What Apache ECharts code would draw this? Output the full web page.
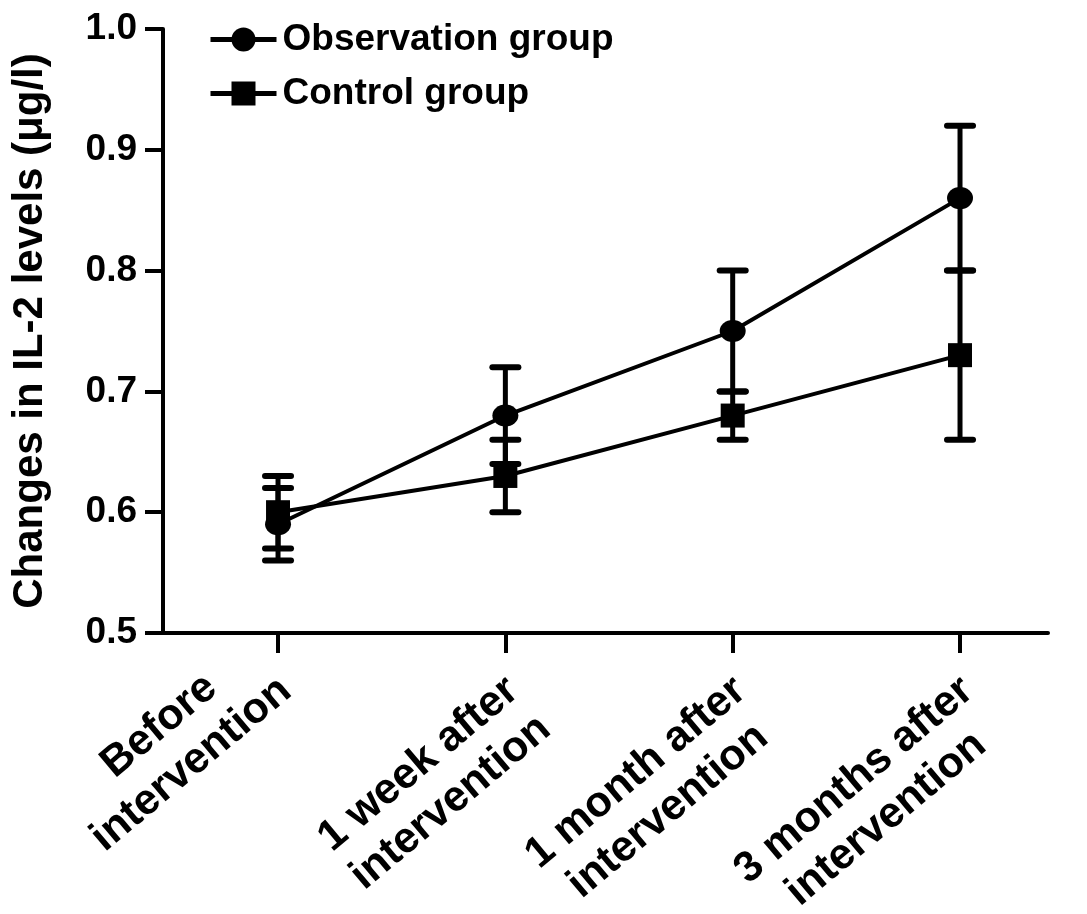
<!DOCTYPE html>
<html>
<head>
<meta charset="utf-8">
<script src="https://cdn.jsdelivr.net/npm/echarts@6/dist/echarts.min.js"></script>
<style>
html,body{margin:0;padding:0;background:#fff;}
#chart{width:1087px;height:914px;}
</style>
</head>
<body>
<div id="chart"></div>
<script>
const categories = ['Before\nintervention', '1 week after\nintervention', '1 month after\nintervention', '3 months after\nintervention'];
const obsMean = [0.59, 0.68, 0.75, 0.86];
const obsSD = [0.03, 0.04, 0.05, 0.06];
const ctrlMean = [0.60, 0.63, 0.68, 0.73];
const ctrlSD = [0.03, 0.03, 0.02, 0.07];
const yMin = 0.5, yMax = 1.0, yStep = 0.1;
const seriesNames = ['Observation group', 'Control group'];

const FONT = "'Liberation Sans', Arial, sans-serif";
const LH = 50;
const X_MIN = -0.506, X_MAX = 3.387;
const catIdx = categories.map((c, i) => i);

function pts(mean) { return mean.map((v, i) => [i, v]); }
function errs(mean, sd) { return mean.map((v, i) => [i, +(v - sd[i]).toFixed(3), +(v + sd[i]).toFixed(3)]); }

function errRender(params, api) {
  const x = api.value(0), lo = api.value(1), hi = api.value(2);
  const pLo = api.coord([x, lo]), pHi = api.coord([x, hi]);
  const hw = 13;
  const st = { stroke: '#000', lineWidth: 5 };
  const cap = { stroke: '#000', lineWidth: 6, lineCap: 'round' };
  return {
    type: 'group',
    children: [
      { type: 'line', shape: { x1: pLo[0], y1: pLo[1], x2: pHi[0], y2: pHi[1] }, style: st },
      { type: 'line', shape: { x1: pLo[0] - hw, y1: pLo[1], x2: pLo[0] + hw, y2: pLo[1] }, style: cap },
      { type: 'line', shape: { x1: pHi[0] - hw, y1: pHi[1], x2: pHi[0] + hw, y2: pHi[1] }, style: cap }
    ]
  };
}

// Rotated labels are anchored at their topmost corner (like the original figure):
// when the first line is the longest, a spacer is put above it so that its top sits at the anchor.
function xLabel(v) {
  const i = Math.round(v);
  if (Math.abs(v - i) > 1e-6 || !categories[i]) return ' ';
  const lines = categories[i].split('\n');
  const body = lines.map(s => '{c|' + s + '}').join('\n');
  return lines[0].length >= lines[1].length ? '{sp| }\n' + body : body;
}

const chart = echarts.init(document.getElementById('chart'), null, { renderer: 'canvas' });
chart.setOption({
  backgroundColor: '#fff',
  animation: false,
  textStyle: { fontFamily: FONT },
  grid: { left: 163, right: 39, top: 29, bottom: 281, containLabel: false, outerBoundsMode: 'none' },
  legend: {
    data: seriesNames,
    orient: 'vertical',
    left: 203,
    top: 16,
    itemWidth: 66,
    itemHeight: 30,
    itemGap: 17,
    lineStyle: { width: 5 },
    textStyle: { fontFamily: FONT, fontSize: 37, fontWeight: 'bold', color: '#000', padding: [0, 0, 0, 1] }
  },
  xAxis: {
    type: 'value',
    min: X_MIN,
    max: X_MAX,
    splitLine: { show: false },
    axisLine: { show: true, onZero: false, lineStyle: { color: '#000', width: 4 } },
    axisTick: { show: true, customValues: catIdx, length: 20, lineStyle: { color: '#000', width: 4 } },
    axisLabel: {
      show: true,
      customValues: catIdx.concat([X_MAX]),
      interval: 0,
      showMinLabel: true,
      showMaxLabel: true,
      hideOverlap: false,
      rotate: 40,
      margin: 26,
      align: 'right',
      verticalAlign: 'middle',
      padding: [0, 11, 0, 0],
      formatter: xLabel,
      rich: {
        c: { align: 'center', fontFamily: FONT, fontSize: 43, fontWeight: 'bold', color: '#000', lineHeight: LH },
        sp: { align: 'center', fontSize: 10, lineHeight: 2 * LH }
      }
    }
  },
  yAxis: {
    type: 'value',
    min: yMin,
    max: yMax,
    interval: yStep,
    splitLine: { show: false },
    name: 'Changes in IL-2 levels (μg/l)',
    nameLocation: 'middle',
    nameRotate: 90,
    nameGap: 112,
    nameTextStyle: { fontFamily: FONT, fontSize: 42, fontWeight: 'bold', color: '#000' },
    axisLine: { show: true, onZero: false, lineStyle: { color: '#000', width: 4 } },
    axisTick: { show: true, length: 18, lineStyle: { color: '#000', width: 4 } },
    axisLabel: {
      margin: 26,
      fontFamily: FONT, fontSize: 37, fontWeight: 'bold', color: '#000',
      formatter: v => v.toFixed(1)
    }
  },
  series: [
    {
      name: seriesNames[0], type: 'line', data: pts(obsMean),
      symbol: 'circle', symbolSize: [26, 22],
      lineStyle: { color: '#000', width: 4 }, itemStyle: { color: '#000' }, z: 3
    },
    {
      name: seriesNames[1], type: 'line', data: pts(ctrlMean),
      symbol: 'rect', symbolSize: 24,
      lineStyle: { color: '#000', width: 4 }, itemStyle: { color: '#000' }, z: 3
    },
    {
      name: 'obsErr', type: 'custom', renderItem: errRender, data: errs(obsMean, obsSD),
      encode: { x: 0, y: [1, 2] }, z: 2
    },
    {
      name: 'ctrlErr', type: 'custom', renderItem: errRender, data: errs(ctrlMean, ctrlSD),
      encode: { x: 0, y: [1, 2] }, z: 2
    }
  ]
});
</script>
</body>
</html>
